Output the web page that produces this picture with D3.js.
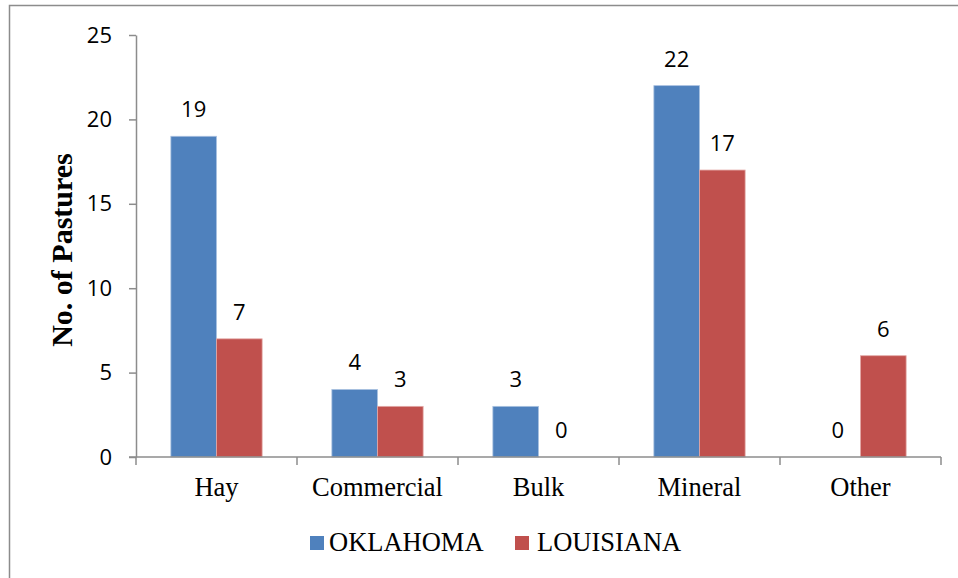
<!DOCTYPE html>
<html>
<head>
<meta charset="utf-8">
<script src="https://cdn.jsdelivr.net/npm/d3@7"></script>
<style>
  html, body { margin: 0; padding: 0; background: #fff; }
  svg { display: block; }
</style>
</head>
<body>
<svg id="chart" width="958" height="578"></svg>
<script>
// Pasture supplement sources by state
const categories = ["Hay", "Commercial", "Bulk", "Mineral", "Other"];
const seriesNames = ["OKLAHOMA", "LOUISIANA"];
const oklahoma = [19, 4, 3, 22, 0];
const louisiana = [7, 3, 0, 17, 6];
const yTicks = [0, 5, 10, 15, 20, 25];
const colors = ["#4F81BD", "#C0504D"];

const svg = d3.select("#chart");
const W = 958, H = 578;
const margin = { left: 136, right: 17, top: 35, bottom: 121 };
const plotW = W - margin.left - margin.right;
const plotH = H - margin.top - margin.bottom;

// outer frame
svg.append("rect")
  .attr("x", 9.5).attr("y", 5.5)
  .attr("width", W + 20).attr("height", H + 20)
  .attr("fill", "none").attr("stroke", "#8c8c8c").attr("stroke-width", 1.5);

const g = svg.append("g").attr("transform", `translate(${margin.left},${margin.top})`);

const x0 = d3.scaleBand().domain(categories).range([0, plotW]).paddingInner(0).paddingOuter(0);
const x1 = d3.scaleBand().domain(seriesNames).range([0, x0.bandwidth()]).paddingInner(0).paddingOuter(0.764);
const y = d3.scaleLinear().domain([0, 25]).range([plotH, 0]);

const rows = categories.map((c, i) => ({ cat: c, values: [oklahoma[i], louisiana[i]] }));

// bars
const groups = g.selectAll(".grp").data(rows).enter().append("g")
  .attr("transform", d => `translate(${x0(d.cat)},0)`);

groups.selectAll("rect").data(d => d.values.map((v, k) => ({ v, k })))
  .enter().append("rect")
  .attr("x", d => x1(seriesNames[d.k]))
  .attr("y", d => y(d.v))
  .attr("width", x1.bandwidth())
  .attr("height", d => plotH - y(d.v))
  .attr("fill", d => colors[d.k])
  .attr("stroke", d => d.v > 0 ? (d.k === 0 ? "#a9c1e0" : "#e3a9a7") : "none")
  .attr("stroke-width", 0.8);

// value labels
groups.selectAll("text.val").data(d => d.values.map((v, k) => ({ v, k })))
  .enter().append("text")
  .attr("class", "val")
  .attr("x", d => x1(seriesNames[d.k]) + x1.bandwidth() / 2)
  .attr("y", d => y(d.v) - 19)
  .attr("text-anchor", "middle")
  .attr("font-family", "'Open Sans', 'Noto Sans', sans-serif")
  .attr("font-size", 22)
  .attr("fill", "#000")
  .text(d => d.v);

// y axis
const yAxis = g.append("g")
  .call(d3.axisLeft(y).tickValues(yTicks).tickSize(7).tickPadding(17).tickSizeOuter(0));
yAxis.select(".domain").attr("stroke", "#8c8c8c").attr("stroke-width", 1.5);
yAxis.selectAll(".tick line").attr("stroke", "#8c8c8c").attr("stroke-width", 1.5);
yAxis.selectAll(".tick text")
  .attr("font-family", "'Open Sans', 'Noto Sans', sans-serif")
  .attr("font-size", 22).attr("fill", "#000");

// x axis: baseline with ticks at category boundaries
const xg = g.append("g").attr("transform", `translate(0,${plotH})`);
xg.append("line")
  .attr("x1", -7).attr("x2", plotW)
  .attr("stroke", "#8c8c8c").attr("stroke-width", 1.5);
const bounds = categories.map(c => x0(c)).concat([plotW]);
xg.selectAll("line.tk").data(bounds).enter().append("line")
  .attr("class", "tk")
  .attr("x1", d => d).attr("x2", d => d)
  .attr("y1", 0).attr("y2", 8)
  .attr("stroke", "#8c8c8c").attr("stroke-width", 1.5);
xg.selectAll("text.cat").data(categories).enter().append("text")
  .attr("class", "cat")
  .attr("x", d => x0(d) + x0.bandwidth() / 2)
  .attr("y", 39)
  .attr("text-anchor", "middle")
  .attr("font-family", "'Liberation Serif', 'Times New Roman', serif")
  .attr("font-size", 26.5)
  .attr("fill", "#000")
  .text(d => d);

// y axis title
svg.append("text")
  .attr("transform", "translate(72,250) rotate(-90)")
  .attr("text-anchor", "middle")
  .attr("font-family", "'Liberation Serif', 'Times New Roman', serif")
  .attr("font-weight", "bold")
  .attr("font-size", 30)
  .attr("fill", "#000")
  .text("No. of Pastures");

// legend
const legendItems = [
  { name: seriesNames[0], color: colors[0], sx: 310, tx: 329 },
  { name: seriesNames[1], color: colors[1], sx: 515, tx: 537 }
];
const lg = svg.append("g");
lg.selectAll("rect").data(legendItems).enter().append("rect")
  .attr("x", d => d.sx).attr("y", 536)
  .attr("width", 14).attr("height", 14)
  .attr("fill", d => d.color);
lg.selectAll("text").data(legendItems).enter().append("text")
  .attr("x", d => d.tx).attr("y", 551)
  .attr("font-family", "'Liberation Serif', 'Times New Roman', serif")
  .attr("font-size", 26.5)
  .attr("fill", "#000")
  .text(d => d.name);
</script>
</body>
</html>
